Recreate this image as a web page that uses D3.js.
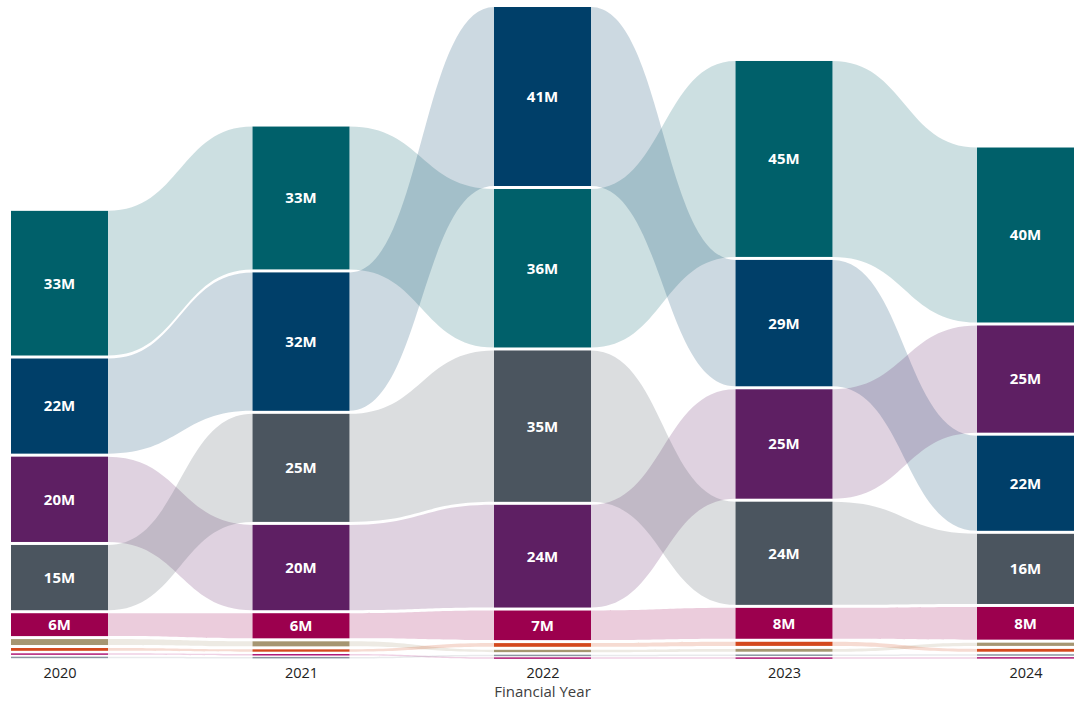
<!DOCTYPE html>
<html>
<head>
<meta charset="utf-8">
<script src="https://cdn.jsdelivr.net/npm/d3@7"></script>
<style>
  html, body { margin: 0; padding: 0; background: #fff; }
  svg { display: block; font-family: "Open Sans", "Noto Sans", sans-serif; }
</style>
</head>
<body>
<svg id="chart" width="1080" height="704"></svg>
<script>
// Financial years shown on the x axis
const years = ["2020", "2021", "2022", "2023", "2024"];

// Category names
const categories = ["Category A", "Category B", "Category C", "Category D", "Category E",
                    "Category F", "Category G", "Category H", "Category I"];

// Values per category, one per financial year (millions)
const valuesA = [33.1, 32.7, 36.2, 44.6, 39.9];
const valuesB = [22.0, 31.7, 40.8, 29.0, 22.0];
const valuesC = [19.8, 19.8, 23.7, 25.2, 24.7];
const valuesD = [15.3, 24.9, 34.6, 23.8, 16.4];
const valuesE = [5.8, 6.3, 7.3, 7.6, 8.0];
const valuesF = [2.0, 1.8, 1.2, 1.3, 1.4];
const valuesG = [1.3, 1.2, 1.5, 1.6, 1.3];
const valuesH = [0.8, 0.7, 0.4, 0.4, 0.5];
const valuesI = [0.7, 0.6, 0.8, 0.9, 0.8];

const colors = ["#00606a", "#003f69", "#5e1f63", "#4b555f", "#9c004e",
                "#a69672", "#d4491e", "#b01a77", "#8b96a2"];

const seriesValues = [valuesA, valuesB, valuesC, valuesD, valuesE, valuesF, valuesG, valuesH, valuesI];

const svg = d3.select("#chart");
const baseY = 659, topY = 5.5;
const barW = 97, gap = 3;

const x = d3.scalePoint().domain(years).range([59.5, 1025.5]);

// Stack each year with the largest category on top
const totals = years.map((_, i) => d3.sum(seriesValues, s => s[i]));
const y = d3.scaleLinear().domain([0, d3.max(totals)]).range([baseY, topY]);

const layout = categories.map(() => []);
years.forEach((yr, i) => {
  const order = d3.range(categories.length).sort((a, b) => seriesValues[a][i] - seriesValues[b][i]);
  let acc = 0;
  order.forEach(ci => {
    const v = seriesValues[ci][i];
    const y0 = y(acc + v), y1 = y(acc);
    let t = y0 + gap / 2, b = y1 - gap / 2;
    if (b - t < 1.5) { const m = (y0 + y1) / 2; t = m - 0.75; b = m + 0.75; }
    layout[ci][i] = { year: yr, value: v, top: t, bottom: b };
    acc += v;
  });
});

// Ribbons between consecutive years
const ribbons = svg.append("g");
categories.forEach((c, ci) => {
  for (let i = 0; i < years.length - 1; i++) {
    const a = layout[ci][i], b = layout[ci][i + 1];
    const x0 = x(years[i]) + barW / 2, x1 = x(years[i + 1]) - barW / 2;
    const xm = (x0 + x1) / 2;
    const p = d3.path();
    p.moveTo(x0, a.top);
    p.bezierCurveTo(xm, a.top, xm, b.top, x1, b.top);
    p.lineTo(x1, b.bottom);
    p.bezierCurveTo(xm, b.bottom, xm, a.bottom, x0, a.bottom);
    p.closePath();
    ribbons.append("path")
      .attr("d", p.toString())
      .attr("fill", colors[ci])
      .attr("fill-opacity", 0.2);
  }
});

// Bars
const bars = svg.append("g");
categories.forEach((c, ci) => {
  layout[ci].forEach(d => {
    bars.append("rect")
      .attr("x", x(d.year) - barW / 2)
      .attr("y", d.top)
      .attr("width", barW)
      .attr("height", d.bottom - d.top)
      .attr("fill", colors[ci]);
    if (d.value >= 5) {
      bars.append("text")
        .attr("x", x(d.year))
        .attr("y", (d.top + d.bottom) / 2)
        .attr("dy", "0.36em")
        .attr("text-anchor", "middle")
        .attr("fill", "#fff")
        .attr("font-size", 15)
        .attr("font-weight", 700)
        .text(Math.round(d.value) + "M");
    }
  });
});

// X axis
const axis = svg.append("g")
  .attr("transform", `translate(0,${baseY})`)
  .call(d3.axisBottom(x).tickSize(0).tickPadding(9));
axis.select(".domain").remove();
axis.selectAll("text")
  .attr("font-family", "'Open Sans', sans-serif")
  .attr("font-size", 14.5)
  .attr("fill", "#222");

svg.append("text")
  .attr("x", x("2022"))
  .attr("y", 697)
  .attr("text-anchor", "middle")
  .attr("font-size", 15)
  .attr("fill", "#404040")
  .text("Financial Year");
</script>
</body>
</html>
